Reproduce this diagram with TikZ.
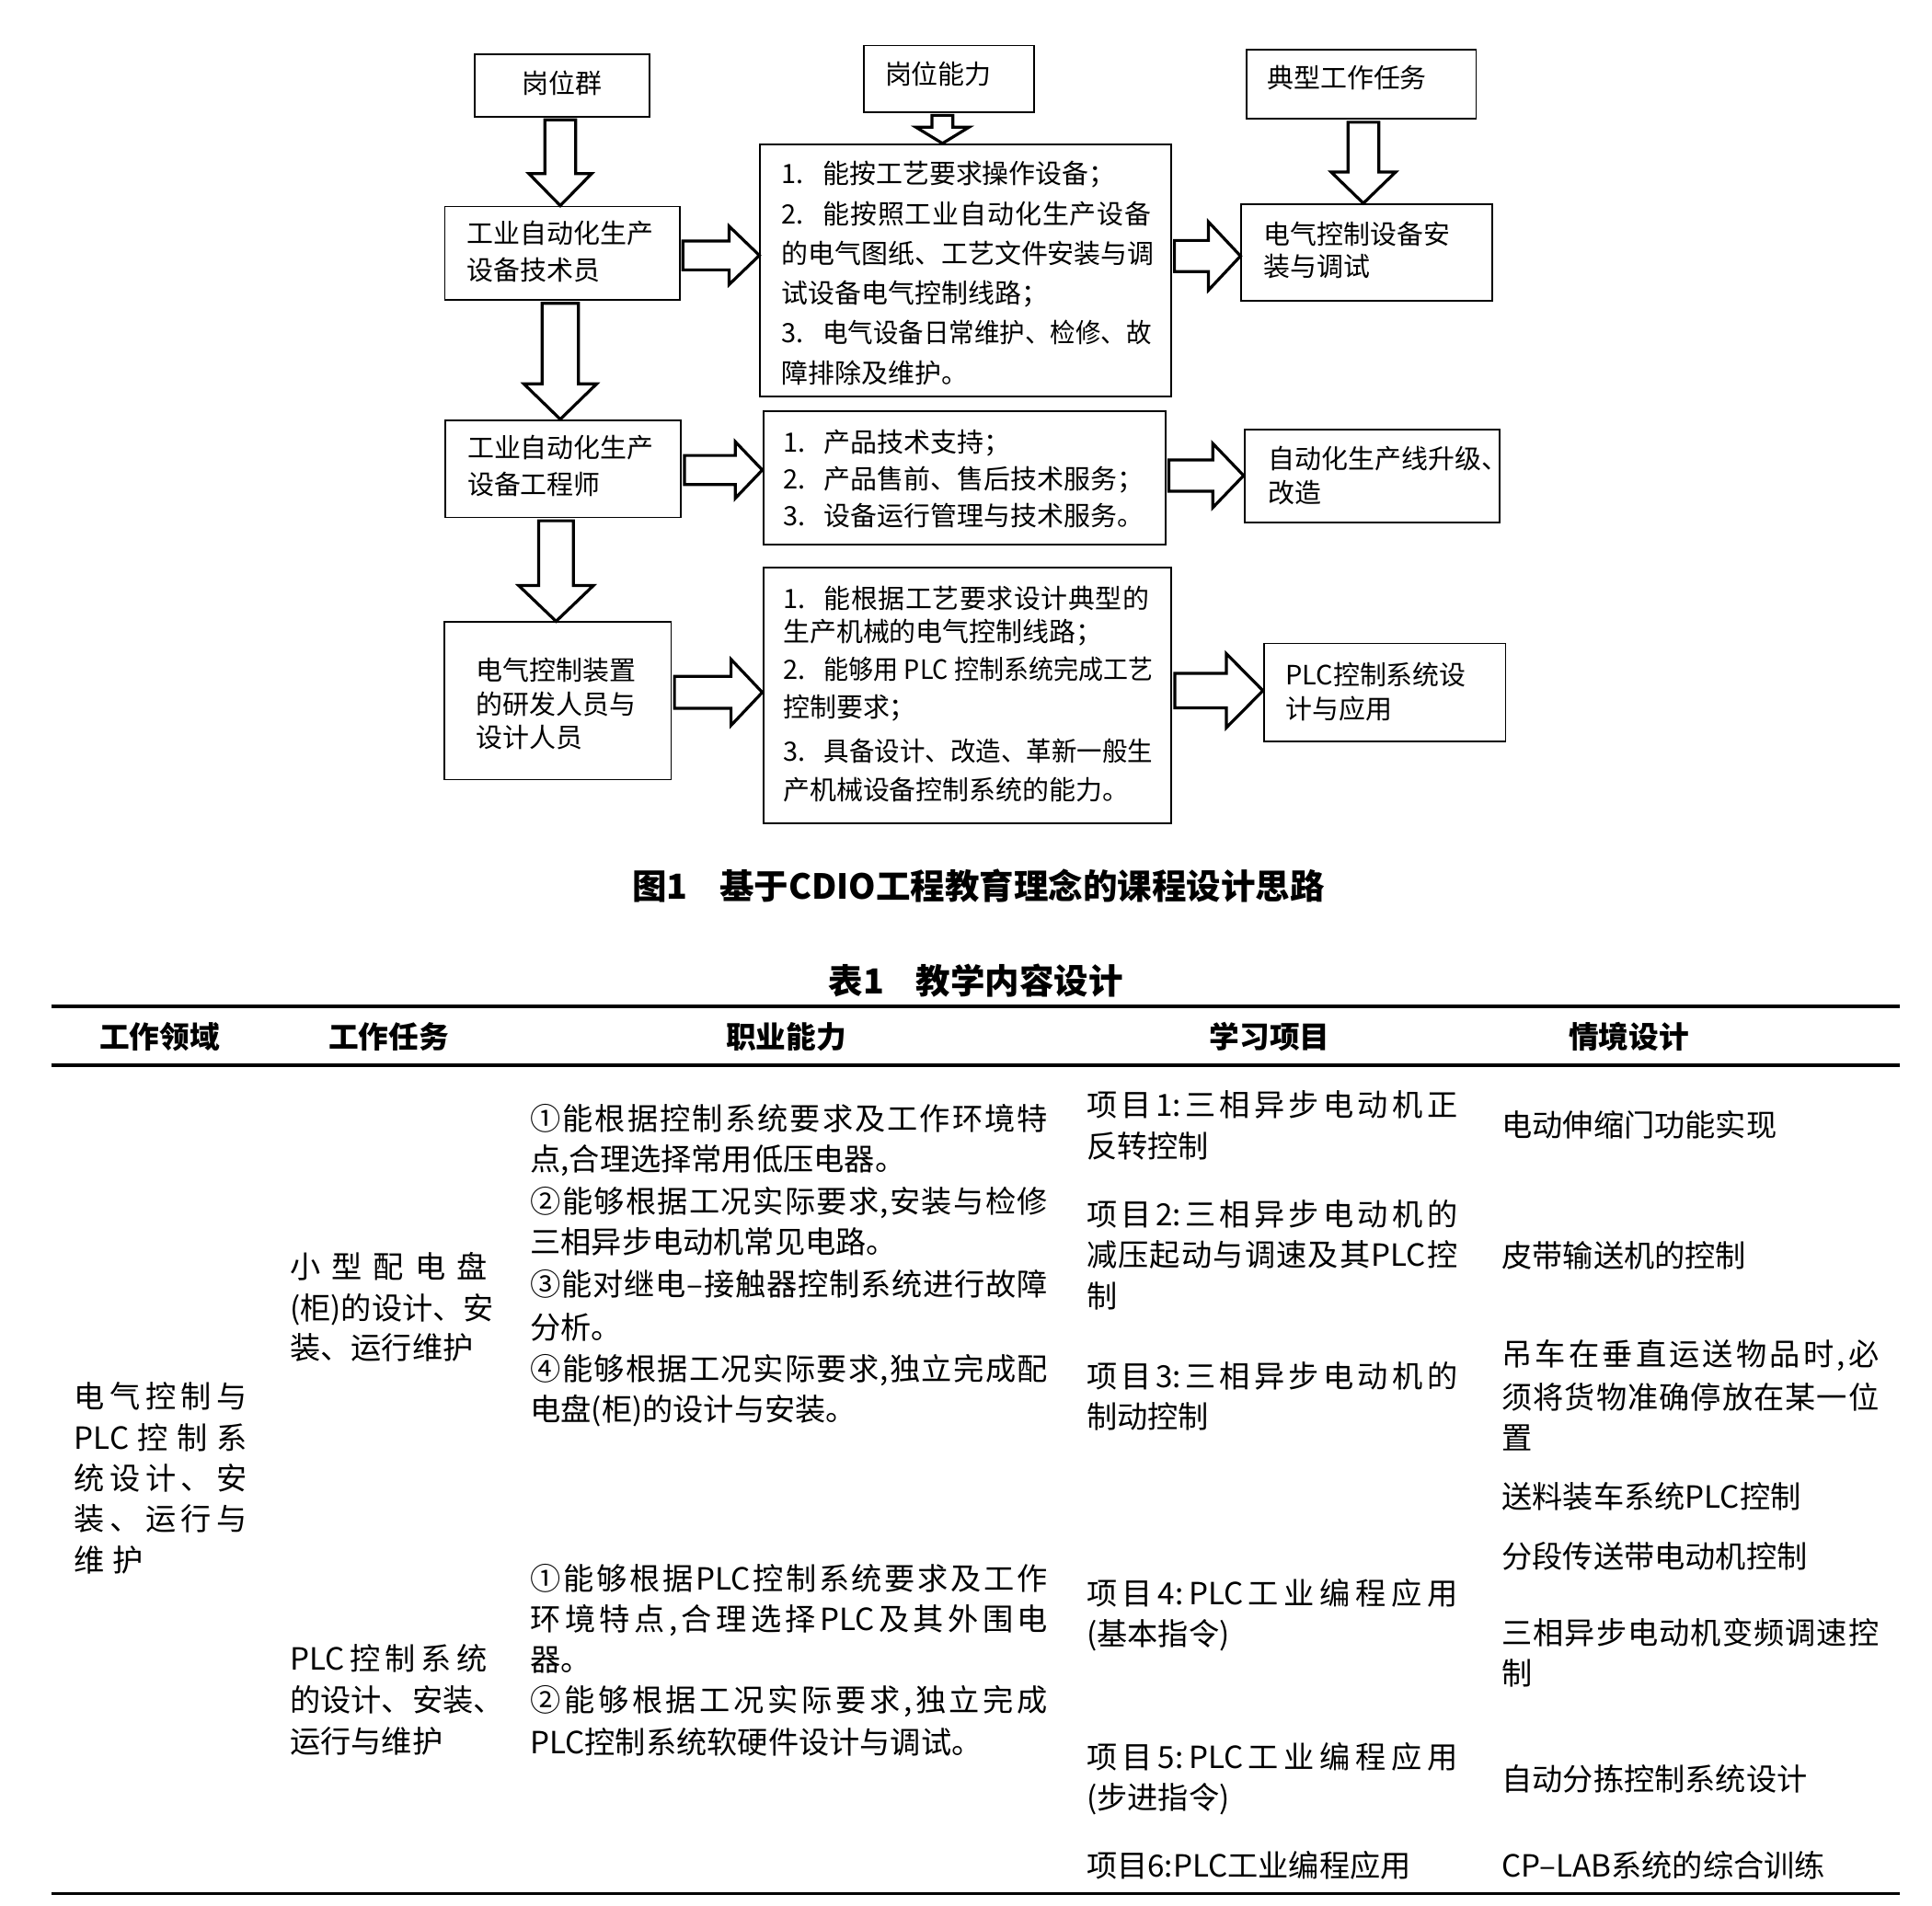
\documentclass[tikz,border=0pt]{standalone}
\usepackage{graphicx}
\usepackage{fontspec}
\setmainfont{Noto Sans CJK SC}
\usetikzlibrary{calc,fit}
\ExplSyntaxOn
\NewDocumentCommand\jst{mm}{\makebox[#1][s]{\tl_map_inline:nn{#2}{##1\hfil}\unskip}}
\ExplSyntaxOff
\newcommand\np[1]{\makebox[16.7pt][l]{#1}}
\newcommand\sqz[2]{\resizebox{#1}{\height}{#2}}
% vertical block arrow: from node, to node, x, shaft half width, head half width, head length (px)
\newcommand\varr[6]{\draw[blk] let \p1=([yshift=-1pt]#1.south), \p2=(#2.north), \p3=(#3,0) in
  (\x3-#4*0.5pt,\y1) -- (\x3-#4*0.5pt,\y2+#6*0.5pt) -- (\x3-#5*0.5pt,\y2+#6*0.5pt) -- (\x3,\y2)
  -- (\x3+#5*0.5pt,\y2+#6*0.5pt) -- (\x3+#4*0.5pt,\y2+#6*0.5pt) -- (\x3+#4*0.5pt,\y1) -- cycle;}
% horizontal block arrow: from node, to node, y, shaft half width, head half width, head length (px)
\newcommand\harr[6]{\draw[blk] let \p1=([xshift=1pt]#1.east), \p2=(#2.west), \p3=(0,#3) in
  (\x1,\y3+#4*0.5pt) -- (\x2-#6*0.5pt,\y3+#4*0.5pt) -- (\x2-#6*0.5pt,\y3+#5*0.5pt) -- (\x2,\y3)
  -- (\x2-#6*0.5pt,\y3-#5*0.5pt) -- (\x2-#6*0.5pt,\y3-#4*0.5pt) -- (\x1,\y3-#4*0.5pt) -- cycle;}
\tikzset{
  box/.style={draw, line width=0.7pt, inner sep=0pt, rectangle},
  blk/.style={draw, line width=1.2pt, fill=white, line join=miter},
  ft/.style={anchor=west, inner sep=0pt, font=\fontsize{10.8}{13}\selectfont, text height=9.5pt, text depth=1.3pt},
  tb/.style={anchor=west, inner sep=0pt, font=\fontsize{12.4}{15}\selectfont, text height=10.9pt, text depth=1.5pt},
  th/.style={anchor=center, inner sep=0pt, font=\bfseries\fontsize{12.2}{15}\selectfont, text height=10.7pt, text depth=1.5pt},
  captxt/.style={anchor=center, inner sep=0pt, font=\bfseries\fontsize{14}{17}\selectfont, text height=12.3pt, text depth=1.7pt},
  rulel/.style={line width=1.4pt},
}
\begin{document}
\begin{tikzpicture}[x=0.5pt,y=-0.5pt]
\fill[white] (0,0) rectangle (1568,1547);
\path[use as bounding box] (0,0) rectangle (1568,1547);

% ---------- flowchart boxes ----------
\node[box, fit={(385,44) (527,94.6)}] (b1) {};
\node[box, fit={(701,37) (839,90.9)}] (b2) {};
\node[box, fit={(1011.4,40) (1198,96.5)}] (b3) {};
\node[box, fit={(361,167.6) (551.5,243.5)}] (n1) {};
\node[box, fit={(617,117.1) (950.5,322)}] (c1) {};
\node[box, fit={(1007.5,165.7) (1211,244.3)}] (r1) {};
\node[box, fit={(361.7,341) (552.8,420)}] (n2) {};
\node[box, fit={(619.4,334) (946,442)}] (c2) {};
\node[box, fit={(1010,349) (1217,424)}] (r2) {};
\node[box, fit={(360.5,505) (544.7,632.8)}] (n3) {};
\node[box, fit={(619.4,460.5) (950.7,668.5)}] (c3) {};
\node[box, fit={(1025.7,522.3) (1221.9,602)}] (r3) {};

% ---------- flowchart texts ----------
\node[ft, anchor=center] (b1t) at (456,67.3) {岗位群};
\node[ft, anchor=center] (b2t) at (761.5,59.8) {岗位能力};
\node[ft] (b3t) at (1028,63.2) {典型工作任务};

\node[ft] (n1a) at (378.5,189.3) {工业自动化生产};
\node[ft] (n1b) at (378.5,219.1) {设备技术员};

\node[ft] (c1a) at (634,140.7) {\np{1.}能按工艺要求操作设备；};
\node[ft] (c1b) at (634,173.6) {\np{2.}\jst{133.3pt}{能按照工业自动化生产设备}};
\node[ft] (c1c) at (634,205.5) {\jst{150pt}{的电气图纸、工艺文件安装与调}};
\node[ft] (c1d) at (634,237.8) {试设备电气控制线路；};
\node[ft] (c1e) at (634,270.2) {\np{3.}\sqz{133.3pt}{电气设备日常维护、检修、故}};
\node[ft] (c1f) at (634,302.6) {障排除及维护。};

\node[ft] (r1a) at (1025.3,189.7) {电气控制设备安};
\node[ft] (r1b) at (1025.3,216.4) {装与调试};

\node[ft] (n2a) at (379,363.4) {工业自动化生产};
\node[ft] (n2b) at (379,393.3) {设备工程师};

\node[ft] (c2a) at (635.2,358.5) {\np{1.}产品技术支持；};
\node[ft] (c2b) at (635.2,388.3) {\np{2.}产品售前、售后技术服务；};
\node[ft] (c2c) at (635.2,418.2) {\np{3.}设备运行管理与技术服务。};

\node[ft] (r2a) at (1029,372.2) {自动化生产线升级、};
\node[ft] (r2b) at (1029,400.2) {改造};

\node[ft] (n3a) at (386,544) {电气控制装置};
\node[ft] (n3b) at (386,571.4) {的研发人员与};
\node[ft] (n3c) at (386,598.7) {设计人员};

\node[ft] (c3a) at (635.2,485.4) {\np{1.}\jst{131.8pt}{能根据工艺要求设计典型的}};
\node[ft] (c3b) at (635.2,512.8) {生产机械的电气控制线路；};
\node[ft] (c3c) at (635.2,543.5) {\np{2.}\sqz{133.3pt}{能够用 PLC 控制系统完成工艺}};
\node[ft] (c3d) at (635.2,573.8) {控制要求；};
\node[ft] (c3e) at (635.2,609.9) {\np{3.}\sqz{133.3pt}{具备设计、改造、革新一般生}};
\node[ft] (c3f) at (635.2,641) {产机械设备控制系统的能力。};

\node[ft] (r3a) at (1043,547.7) {PLC控制系统设};
\node[ft] (r3b) at (1043,575.1) {计与应用};

% ---------- block arrows ----------
\varr{b1}{n1}{454.7}{12.5}{25.5}{26}
\varr{n1}{n2}{454.7}{14.75}{29.5}{28.7}
\varr{n2}{n3}{451.3}{14.1}{30.3}{29}
\varr{b2}{c1}{764.9}{8.5}{21.6}{13.2}
\varr{b3}{r1}{1106.5}{12.5}{26.1}{25.3}
\harr{n1}{c1}{207.3}{11.75}{23.6}{24.5}
\harr{c1}{r1}{207.8}{12.65}{27.7}{26}
\harr{n2}{c2}{381.5}{11.8}{23}{22}
\harr{c2}{r2}{386}{12.7}{26}{25}
\harr{n3}{c3}{562}{13}{26.8}{25.4}
\harr{c3}{r3}{560.6}{14}{30}{29.7}

% ---------- captions ----------
\node[captxt] (fig) at (794,719) {图1\hspace{13pt}基于CDIO工程教育理念的课程设计思路};
\node[captxt] (tab) at (792,796) {表1\hspace{13pt}教学内容设计};

% ---------- table rules ----------
\coordinate (tl) at (41.5,817);
\coordinate (tr) at (1542,817);
\coordinate (hl) at (41.5,864.5);
\coordinate (hr) at (1542,864.5);
\coordinate (bl) at (41.5,1537);
\coordinate (br) at (1542,1537);
\draw[rulel] (tl) -- (tr);
\draw[rulel] (hl) -- (hr);
\draw[rulel] (bl) -- (br);

% ---------- header ----------
\node[th] (h1) at (129.5,841.5) {工作领域};
\node[th] (h2) at (315.5,841.5) {工作任务};
\node[th] (h3) at (638,841.5) {职业能力};
\node[th] (h4) at (1030.5,841.5) {学习项目};
\node[th] (h5) at (1322,841.5) {情境设计};

% ---------- column 1 ----------
\node[tb] (a1) at (60,1133) {\jst{70pt}{电气控制与}};
\node[tb] (a2) at (60,1167) {\jst{70pt}{{PLC}控制系}};
\node[tb] (a3) at (60,1200) {\jst{70pt}{统设计、安}};
\node[tb] (a4) at (60,1233) {\jst{70pt}{装、运行与}};
\node[tb] (a5) at (60,1266) {\jst{28pt}{维护}};

% ---------- column 2 ----------
\node[tb] (k1) at (235,1028) {\jst{80pt}{小型配电盘}};
\node[tb] (k2) at (235,1062) {\jst{80pt}{(柜)的设计、安}};
\node[tb] (k3) at (235,1094) {装、运行维护};
\node[tb] (k4) at (235,1346) {\jst{80pt}{{PLC}控制系统}};
\node[tb] (k5) at (235,1380) {\jst{80pt}{的设计、安装、}};
\node[tb] (k6) at (235,1413) {运行与维护};

% ---------- column 3 ----------
\node[tb] (p1) at (430,908) {\jst{210pt}{①能根据控制系统要求及工作环境特}};
\node[tb] (p2) at (430,941) {点,合理选择常用低压电器。};
\node[tb] (p3) at (430,975) {\jst{210pt}{②能够根据工况实际要求,安装与检修}};
\node[tb] (p4) at (430,1008) {三相异步电动机常见电路。};
\node[tb] (p5) at (430,1042) {\jst{210pt}{③能对继电–接触器控制系统进行故障}};
\node[tb] (p6) at (430,1077) {分析。};
\node[tb] (p7) at (430,1111) {\jst{210pt}{④能够根据工况实际要求,独立完成配}};
\node[tb] (p8) at (430,1144) {电盘(柜)的设计与安装。};
\node[tb] (q1) at (430,1281) {\jst{210pt}{①能够根据{PLC}控制系统要求及工作}};
\node[tb] (q2) at (430,1314) {\jst{210pt}{环境特点,合理选择{PLC}及其外围电}};
\node[tb] (q3) at (430,1347) {器。};
\node[tb] (q4) at (430,1380) {\jst{210pt}{②能够根据工况实际要求,独立完成}};
\node[tb] (q5) at (430,1414) {PLC控制系统软硬件设计与调试。};

% ---------- column 4 ----------
\node[tb] (s1) at (881.5,897) {\jst{150.5pt}{项目{1:}三相异步电动机正}};
\node[tb] (s2) at (881.5,930) {反转控制};
\node[tb] (s3) at (881.5,985.5) {\jst{150.5pt}{项目{2:}三相异步电动机的}};
\node[tb] (s4) at (881.5,1018.5) {\jst{150.5pt}{减压起动与调速及其{PLC}控}};
\node[tb] (s5) at (881.5,1052) {制};
\node[tb] (s6) at (881.5,1117) {\jst{150.5pt}{项目{3:}三相异步电动机的}};
\node[tb] (s7) at (881.5,1150) {制动控制};
\node[tb] (s8) at (881.5,1293) {\jst{150.5pt}{项目{4:}{PLC}工业编程应用}};
\node[tb] (s9) at (881.5,1326) {(基本指令)};
\node[tb] (s10) at (881.5,1426) {\jst{150.5pt}{项目{5:}{PLC}工业编程应用}};
\node[tb] (s11) at (881.5,1459) {(步进指令)};
\node[tb] (s12) at (881.5,1514) {项目6:PLC工业编程应用};

% ---------- column 5 ----------
\node[tb] (e1) at (1218.5,913) {电动伸缩门功能实现};
\node[tb] (e2) at (1218.5,1019) {皮带输送机的控制};
\node[tb] (e3) at (1218.5,1099) {\jst{153pt}{吊车在垂直运送物品时,必}};
\node[tb] (e4) at (1218.5,1134) {\jst{153pt}{须将货物准确停放在某一位}};
\node[tb] (e5) at (1218.5,1167) {置};
\node[tb] (e6) at (1218.5,1215) {送料装车系统PLC控制};
\node[tb] (e7) at (1218.5,1263) {分段传送带电动机控制};
\node[tb] (e8) at (1218.5,1325) {\jst{153pt}{三相异步电动机变频调速控}};
\node[tb] (e9) at (1218.5,1358) {制};
\node[tb] (e10) at (1218.5,1444) {自动分拣控制系统设计};
\node[tb] (e11) at (1218.5,1514) {CP–LAB系统的综合训练};
\end{tikzpicture}
\end{document}
